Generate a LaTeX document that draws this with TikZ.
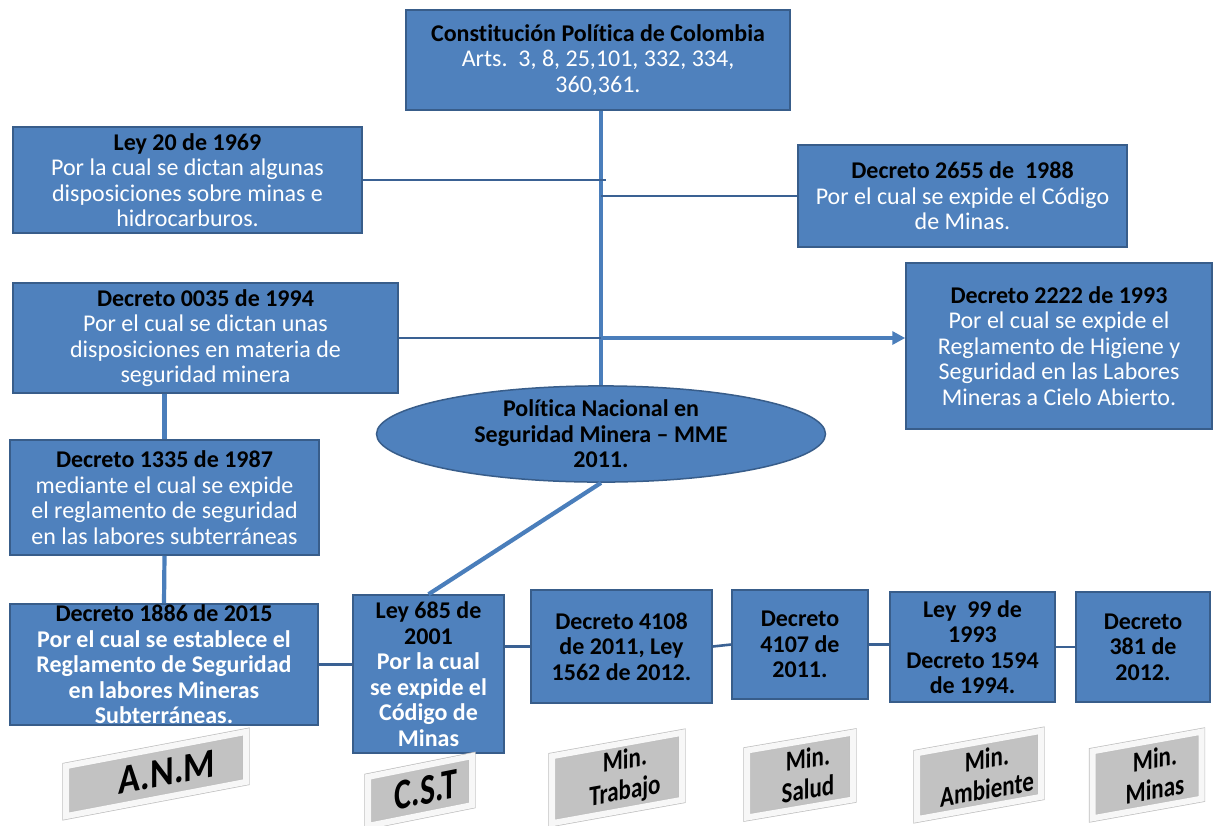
\documentclass[tikz,border=0pt]{standalone}
\usepackage{fontspec}
\setmainfont{Carlito}[Ligatures=NoCommon]
\usetikzlibrary{shapes.geometric,shadows,arrows.meta}
\definecolor{boxblue}{HTML}{4F81BD}
\definecolor{boxedge}{HTML}{385D8A}
\definecolor{linedark}{HTML}{3A6193}
\definecolor{linelight}{HTML}{4A7EBB}
\newcommand{\boxtitle}[1]{{\bfseries\color{black}#1}}
\newcommand{\tallt}[2]{\hspace*{16pt}\scalebox{1}[#1]{#2}}
\begin{document}
\begin{tikzpicture}[x=1pt,y=-1pt,
  box/.style={draw=boxedge, line width=1.5pt, fill=boxblue, align=center,
    inner sep=0pt, text=white, font=\fontsize{24}{25.5}\selectfont},
  bbox/.style={box, font=\fontsize{24}{25.5}\selectfont\bfseries},
  thinline/.style={draw=linedark, line width=2.6pt},
  thickline/.style={draw=linelight, line width=4.2pt},
  glab/.style={draw=black!25, double=black!3, double distance=6pt, line width=0.7pt,
    fill=black!24, align=center, inner sep=0pt, text=black, transform shape,
    drop shadow={shadow xshift=2.5pt, shadow yshift=-2.5pt, opacity=0.18}},
  minfont/.style={font=\fontsize{23}{31}\selectfont\bfseries},
]
\useasboundingbox (0,0) rectangle (1217,825);

% boxes
\node[box, minimum width=384, minimum height=100] (top) at (598,60)
  {\boxtitle{Constitución Política de Colombia}\\Arts.\ \ 3, 8, 25,101, 332, 334,\\360,361.};
\node[box, minimum width=349, minimum height=106] (ley20) at (187.5,180)
  {\boxtitle{Ley 20 de 1969}\\Por la cual se dictan algunas\\disposiciones sobre minas e\\hidrocarburos.};
\node[box, minimum width=329, minimum height=102] (d2655) at (962.5,196)
  {\boxtitle{Decreto 2655 de\ \ 1988}\\Por el cual se expide el Código\\de Minas.};
\node[box, minimum width=385, minimum height=110] (d0035) at (205.5,338)
  {\boxtitle{Decreto 0035 de 1994}\\Por el cual se dictan unas\\disposiciones en materia de\\seguridad minera};
\node[box, minimum width=306, minimum height=166] (d2222) at (1059,346)
  {\boxtitle{Decreto 2222 de 1993}\\Por el cual se expide el\\Reglamento de Higiene y\\Seguridad en las Labores\\Mineras a Cielo Abierto.};
\node[box, ellipse, minimum width=449, minimum height=88, text=black,
  font=\fontsize{24}{25.5}\selectfont\bfseries] (ell) at (601,434)
  {Política Nacional en\\Seguridad Minera -- MME\\2011.};
\node[box, minimum width=309, minimum height=115] (d1335) at (164.5,497.5)
  {\boxtitle{Decreto 1335 de 1987}\\mediante el cual se expide\\el reglamento de seguridad\\en las labores subterráneas};
\node[bbox, minimum width=308, minimum height=121] (d1886) at (164,664.5)
  {\boxtitle{Decreto 1886 de 2015}\\Por el cual se establece el\\Reglamento de Seguridad\\en labores Mineras\\Subterráneas.};
\node[bbox, minimum width=151, minimum height=158] (ley685) at (428.5,674)
  {\boxtitle{Ley 685 de}\\\boxtitle{2001}\\Por la cual\\se expide el\\Código de\\Minas};
\node[bbox, text=black, minimum width=181, minimum height=113] (d4108) at (621.5,646.5)
  {Decreto 4108\\de 2011, Ley\\1562 de 2012.};
\node[bbox, text=black, minimum width=136, minimum height=109] (d4107) at (800,644.5)
  {Decreto\\4107 de\\2011.};
\node[bbox, text=black, minimum width=165, minimum height=110] (ley99) at (972.5,647)
  {Ley\ \ 99 de\\1993\\Decreto 1594\\de 1994.};
\node[bbox, text=black, minimum width=134, minimum height=110] (d381) at (1143,647)
  {Decreto\\381 de\\2012.};

% connectors
\draw[thickline] (top.south -| ell.north) -- (ell.north);
\draw[thinline] (ley20.east) -- ([xshift=5pt]ley20.east -| ell.north);
\draw[thinline] (d2655.west) -- (d2655.west -| ell.north);
\draw[thinline] (d0035.east) -- (d0035.east -| ell.north);
\draw[thickline, -{Triangle[length=13pt,width=13pt]}] (d0035.east -| ell.north) -- (d2222.west |- d0035.east);
\draw[thickline] (d0035.south -| d1335.north) -- (d1335.north);
\draw[thickline] (d1335.south) -- (d1886.north);
\draw[thickline] (ell.south) -- (ley685.north);
\draw[thinline] (d1886.east) -- (d1886.east -| ley685.west);
\draw[thinline] (d4108.west -| ley685.east) -- (d4108.west);
\draw[thinline] (d4108.east) -- (d4107.west);
\draw[thinline] (d4107.east) -- (d4107.east -| ley99.west);
\draw[thinline] (ley99.east) -- (ley99.east -| d381.west);

% grey labels
\begin{scope}[shift={(156,774)}, yslant=0.19]
  \node[glab, minimum width=180, minimum height=50, font=\fontsize{36}{40}\selectfont\bfseries] (anm) {\hspace*{6pt}\tallt{1.15}{A.N.M}};
\end{scope}
\begin{scope}[shift={(420,791)}, yslant=0.2]
  \node[glab, minimum width=104, minimum height=49, font=\fontsize{32}{36}\selectfont\bfseries] (cst) {\tallt{1.35}{C.S.T}\hspace*{4pt}};
\end{scope}
\begin{scope}[shift={(617,778)}, yslant=0.18]
  \node[glab, minimum width=130, minimum height=67, minfont] (trab) {\tallt{1.25}{Min.}\\\tallt{1.25}{Trabajo}};
\end{scope}
\begin{scope}[shift={(800,775)}, yslant=0.17]
  \node[glab, minimum width=106, minimum height=67, minfont] (salud) {\tallt{1.25}{Min.}\\\tallt{1.25}{Salud}};
\end{scope}
\begin{scope}[shift={(979,775)}, yslant=0.18]
  \node[glab, minimum width=124, minimum height=66, minfont] (amb) {\tallt{1.25}{Min.}\\\tallt{1.25}{Ambiente}};
\end{scope}
\begin{scope}[shift={(1147,775)}, yslant=0.18]
  \node[glab, minimum width=109, minimum height=67, minfont] (minas) {\tallt{1.25}{Min.}\\\tallt{1.25}{Minas}};
\end{scope}
\end{tikzpicture}
\end{document}
